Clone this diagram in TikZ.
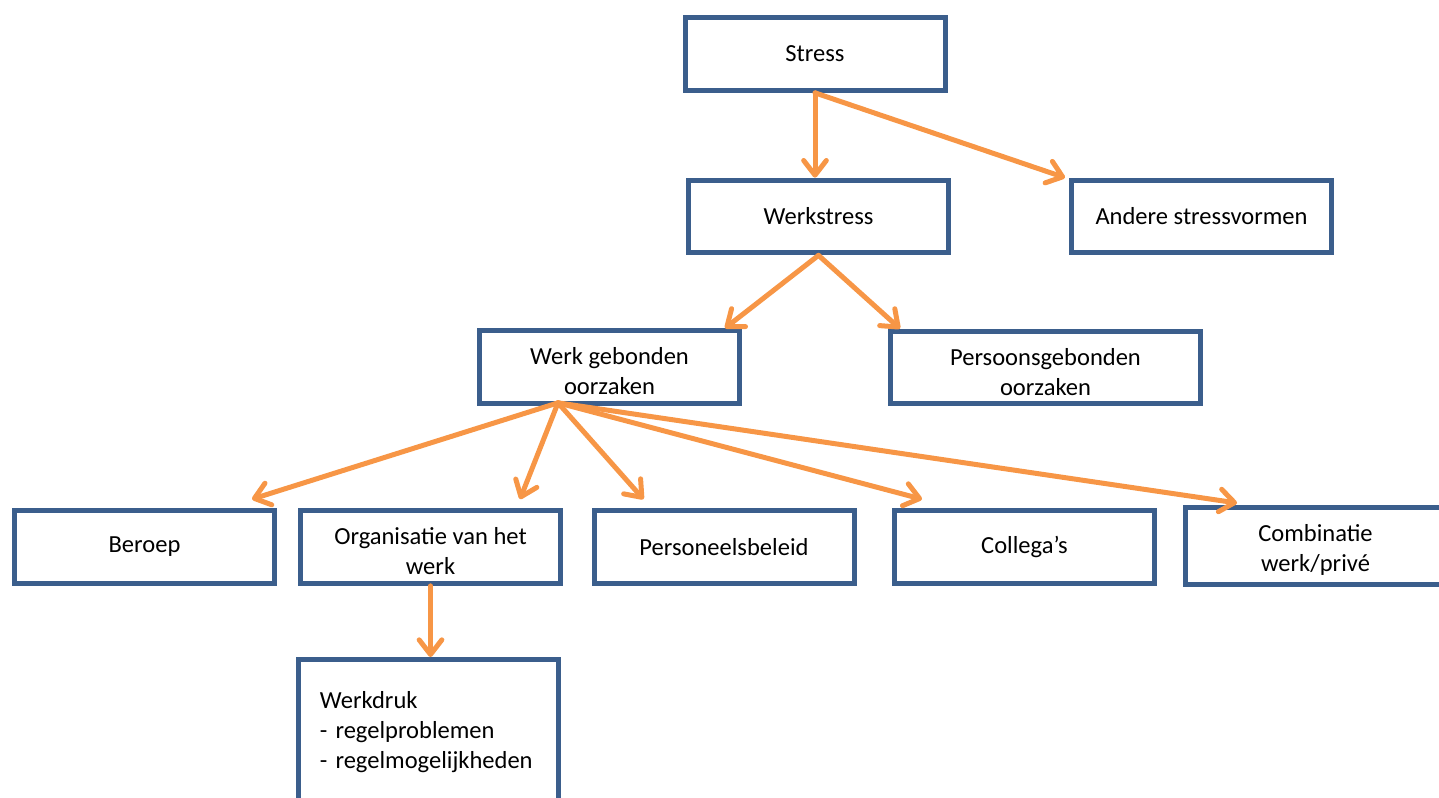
\documentclass[tikz,border=0pt]{standalone}
\usepackage{fontspec}
\setmainfont{Carlito}
\usetikzlibrary{arrows.meta,calc}

\definecolor{boxblue}{HTML}{3B5E8C}
\definecolor{arrorange}{HTML}{F79646}

\tikzset{
  box/.style={rectangle, draw=boxblue, line width=3.75pt, fill=white,
    minimum width=195pt, minimum height=54.5pt, inner sep=2pt, align=center,
    font=\fontsize{18.4pt}{22.5pt}\selectfont},
  twoline/.style={text height=41.5pt},
  arr/.style={draw=arrorange, line width=3.75pt, line cap=round,
    -{Straight Barb[length=11pt,width=17pt,round]}}
}

\begin{document}
\begin{tikzpicture}[x=0.75pt,y=-0.75pt]

\path[use as bounding box, clip] (0,0) rectangle (1439,797);

% top levels
\node[box] (stress) at (815,54) {Stress};
\node[box] (werk) at (818.5,216.5) {Werkstress};
\node[box] (andere) at (1201.5,216.5) {Andere stressvormen};

\node[box, twoline] (wgo) at (609.5,367) {Werk gebonden\\oorzaken};
\node[box, twoline, minimum width=232.5pt] (pgo) at (1045.5,367.5) {Persoonsgebonden\\oorzaken};

% causes
\node[box] (beroep) at (144.5,547) {Beroep};
\node[box, twoline] (org) at (430.5,547) {Organisatie van het\\werk};
\node[box] (pers) at (724,547) {Personeelsbeleid};
\node[box] (coll) at (1024.5,547) {Collega’s};
\node[box, twoline, minimum height=57.75pt] (comb) at (1315.5,546) {Combinatie\\werk/privé};

\node[box, align=left, text width=163pt, inner xsep=16pt, minimum height=109.5pt] (wd) at (428.5,732.5)
  {Werkdruk\\- regelproblemen\\- regelmogelijkheden};

\draw[arr] (stress.south) -- (stress.south |- werk.north);
\draw[arr] (stress.south) -- ($(andere.north west)+(-4,0)$);

\draw[arr] (werk.south) -- ($(wgo.north east)+(-17,0)$);
\draw[arr] (werk.south) -- ($(pgo.north west)+(12,0)$);

\coordinate (fan) at ($(wgo.south)+(-51.5,-3)$);
\draw[arr] (fan) -- ($(beroep.north east)+(-25,-9)$);
\draw[arr] (fan) -- ($(org.north east)+(-43,-9)$);
\draw[arr] (fan) -- ($(pers.north west)+(52,-9)$);
\draw[arr] (fan) -- ($(coll.north west)+(30,-9)$);
\draw[arr] (fan) -- ($(comb.north west)+(54,-2)$);

\draw[arr] (org.south) -- (org.south |- wd.north);

\end{tikzpicture}
\end{document}
